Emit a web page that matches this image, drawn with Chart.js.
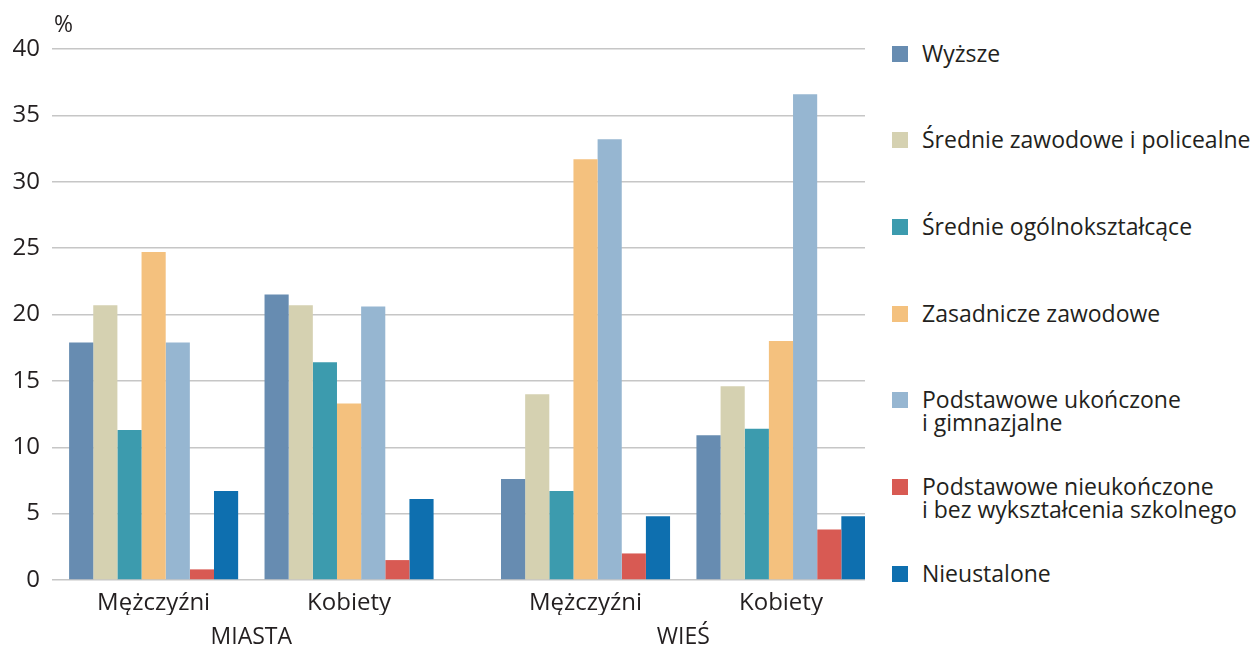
<!DOCTYPE html>
<html>
<head>
<meta charset="utf-8">
<script src="https://cdn.jsdelivr.net/npm/chart.js@4.4.1/dist/chart.umd.min.js"></script>
<style>
  body{margin:0;background:#fff;font-family:"Open Sans",sans-serif;color:#231f20}
  #wrap{position:relative;width:1251px;height:648px;overflow:hidden}
  #box{position:absolute;left:0;top:0;width:870px;height:648px}
  #legend{position:absolute;left:892px;top:0;width:359px;height:648px}
  .item{position:absolute;left:0;display:flex;align-items:flex-start;font-size:23px;line-height:23px;white-space:nowrap}
  .sw{width:16px;height:16px;margin-top:4px;margin-right:14px;flex:none}
</style>
</head>
<body>
<div id="wrap">
  <div id="box"><canvas id="data_chart"></canvas></div>
  <div id="legend"></div>
</div>
<script>
// categories
const groups=['Mężczyźni','Kobiety','Mężczyźni','Kobiety']
const areas=['MIASTA','WIEŚ']
const series=['Wyższe','Średnie zawodowe i policealne','Średnie ogólnokształcące','Zasadnicze zawodowe',
  'Podstawowe ukończone\ni gimnazjalne','Podstawowe nieukończone\ni bez wykształcenia szkolnego','Nieustalone']
// values in %, order: miasta M, miasta K, wieś M, wieś K
const wyzsze=[17.9,21.5,7.6,10.9]
const srednieZawodowe=[20.7,20.7,14.0,14.6]
const srednieOgolne=[11.3,16.4,6.7,11.4]
const zasadnicze=[24.7,13.3,31.7,18.0]
const podstawoweUkonczone=[17.9,20.6,33.2,36.6]
const podstawoweNieukonczone=[0.8,1.5,2.0,3.8]
const nieustalone=[6.7,6.1,4.8,4.8]
const yTicks=[0,5,10,15,20,25,30,35,40]

const values=[wyzsze,srednieZawodowe,srednieOgolne,zasadnicze,podstawoweUkonczone,podstawoweNieukonczone,nieustalone]
const colors=['#678cb1','#d5d1b1','#3c9bae','#f4c17e','#96b6d1','#d85a53','#0e6faf']

// extra space between MIASTA and WIEŚ
const areaGap=0.21
const pos=i=>i+(i>=2?areaGap:0)
const xMin=-0.52, xMax=3.64

const txt='#231f20'
const fam='"Open Sans", sans-serif'

const percentSign={
  id:'percentSign',
  afterDraw(chart){
    const c=chart.ctx
    c.save()
    c.font='23px '+fam
    c.fillStyle=txt
    c.textBaseline='middle'
    c.fillText('%',chart.chartArea.left+2,25)
    c.restore()
  }
}

const data_chart=new Chart('data_chart',{
  type:'bar',
  data:{
    datasets:values.map((v,k)=>({
      label:series[k],
      data:v.map((y,i)=>({x:pos(i),y:y})),
      backgroundColor:colors[k],
      borderWidth:0
    }))
  },
  options:{
    responsive:true,
    maintainAspectRatio:false,
    animation:false,
    categoryPercentage:0.865,
    barPercentage:1,
    layout:{padding:{top:49,left:12,right:5,bottom:0}},
    plugins:{legend:{display:false},tooltip:{enabled:false}},
    scales:{
      x:{
        type:'linear',min:xMin,max:xMax,offset:false,
        grid:{display:false,drawTicks:false,offset:false},border:{display:false},
        afterBuildTicks(ax){ax.ticks=groups.map((g,i)=>({value:pos(i)}))},
        afterFit(ax){ax.height=35;ax.paddingLeft=0;ax.paddingRight=0},
        ticks:{color:txt,font:{family:fam,size:24,lineHeight:1},padding:11,maxRotation:0,autoSkip:false,
          callback:(v)=>{const i=groups.findIndex((g,j)=>Math.abs(pos(j)-v)<1e-6);return i<0?'':groups[i]}}
      },
      x2:{
        type:'linear',position:'bottom',min:xMin,max:xMax,offset:false,
        grid:{display:false,drawTicks:false,offset:false},border:{display:false},
        afterBuildTicks(ax){ax.ticks=areas.map((a,i)=>({value:(pos(2*i)+pos(2*i+1))/2}))},
        afterFit(ax){ax.height=33;ax.paddingLeft=0;ax.paddingRight=0},
        ticks:{color:txt,font:{family:fam,size:23,lineHeight:1},padding:11,maxRotation:0,autoSkip:false,
          callback:(v)=>{const i=areas.findIndex((a,j)=>Math.abs((pos(2*j)+pos(2*j+1))/2-v)<1e-6);return i<0?'':areas[i]}}
      },
      y:{
        min:0,max:40,
        afterBuildTicks(ax){ax.ticks=yTicks.map(v=>({value:v}))},
        afterFit(ax){ax.width=40},
        grid:{color:'#c6c6c6',lineWidth:1.5,drawTicks:false},
        border:{display:false},
        ticks:{color:txt,font:{family:fam,size:24},padding:12}
      }
    }
  },
  plugins:[percentSign]
})

// html legend
const legend=document.getElementById('legend')
series.forEach((s,k)=>{
  const it=document.createElement('div')
  it.className='item'
  it.style.top=(53+k*86.7-11.5)+'px'
  it.innerHTML='<span class="sw" style="background:'+colors[k]+'"></span><span>'+s.replace('\n','<br>')+'</span>'
  legend.appendChild(it)
})
</script>
</body>
</html>
